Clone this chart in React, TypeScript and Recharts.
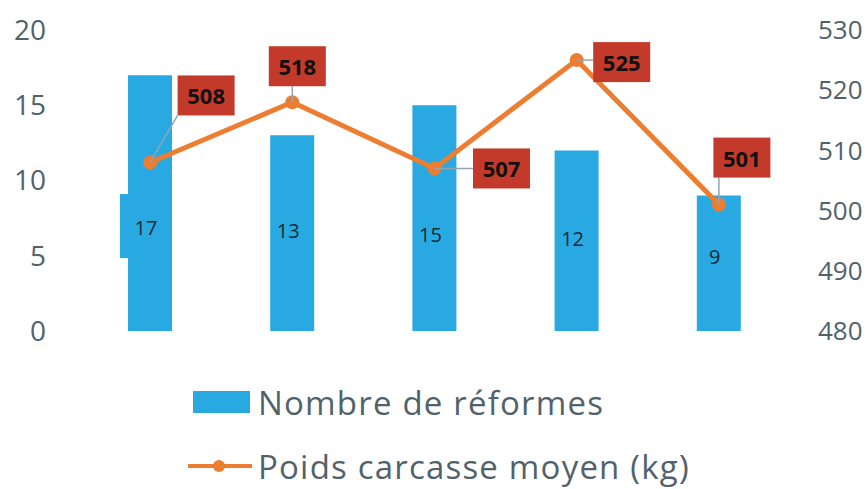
import React from 'react';
import { ComposedChart, Bar, Line, XAxis, YAxis, Legend, LabelList } from 'recharts';

const categories = ['1', '2', '3', '4', '5'];
const nombreReformes = [17, 13, 15, 12, 9];
const poidsCarcasse = [508, 518, 507, 525, 501];
const leftTicks = [0, 5, 10, 15, 20];
const rightTicks = [480, 490, 500, 510, 520, 530];

const data = categories.map((c, i) => ({
  cat: c,
  nombre: nombreReformes[i],
  poids: poidsCarcasse[i],
}));

// layout of the hand-placed labels (relative offsets)
const LINE_LABEL_OFFSETS: [number, number][] = [[56, -67], [5, -36], [67, 0], [45, 2], [23, -47]];
const BAR_LABEL_DY = [24, -3, 16, -2, -7];

const BLUE = '#29a9e1';
const ORANGE = '#ed7d31';
const RED = '#c43a2a';
const TEXT = '#52626b';
const FONT = '"Open Sans", sans-serif';

const LineLabel = (props: any) => {
  const { x, y, value, index } = props;
  const [dx, dy] = LINE_LABEL_OFFSETS[index] || [0, -30];
  const w = 57;
  const h = 40;
  const cx = x + dx;
  const cy = y + dy;
  const left = cx - w / 2;
  const top = cy - h / 2;
  const nx = Math.max(left, Math.min(x, left + w));
  const ny = Math.max(top, Math.min(y, top + h));
  return (
    <g>
      <line x1={x} y1={y} x2={nx} y2={ny} stroke="#8fa6b3" strokeWidth={1.5} />
      <rect x={left} y={top} width={w} height={h} fill={RED} />
      <text x={cx} y={cy} textAnchor="middle" dominantBaseline="central" fontFamily={FONT} fontWeight={700} fontSize={22} fill="#111">
        {value}
      </text>
    </g>
  );
};

const BarLabel = (props: any) => {
  const { x, y, width, height, value, index } = props;
  const cx = x + width / 2;
  const cy = y + height / 2 + (BAR_LABEL_DY[index] || 0);
  return (
    <g>
      {index === 0 && <rect x={x - 8} y={cy - 33} width={width + 8} height={64} fill={BLUE} />}
      <text x={cx - 4} y={cy} textAnchor="middle" dominantBaseline="central" fontFamily={FONT} fontSize={20} fill="#1a2a33">
        {value}
      </text>
    </g>
  );
};

const LegendContent = () => (
  <div style={{ fontFamily: FONT, fontSize: 33, letterSpacing: 1.2, color: TEXT }}>
    <div style={{ display: 'flex', alignItems: 'center', height: 64, whiteSpace: 'nowrap' }}>
      <div style={{ width: 57, height: 22, background: BLUE, marginLeft: 7, marginRight: 8 }} />
      <span>Nombre de réformes</span>
    </div>
    <div style={{ display: 'flex', alignItems: 'center', height: 64, whiteSpace: 'nowrap' }}>
      <svg width={70} height={20} style={{ marginRight: 2 }}>
        <line x1={2} y1={10} x2={66} y2={10} stroke={ORANGE} strokeWidth={4} />
        <circle cx={33} cy={10} r={6} fill={ORANGE} />
      </svg>
      <span>Poids carcasse moyen (kg)</span>
    </div>
  </div>
);

export default function App() {
  return (
    <div style={{ position: 'absolute', left: 0, top: 0, width: 867, height: 489, background: '#fff' }}>
      <ComposedChart width={867} height={489} data={data} margin={{ top: 30, right: 0, left: 0, bottom: 158 }}>
        <XAxis dataKey="cat" hide />
        <YAxis
          yAxisId="left"
          orientation="left"
          width={79}
          domain={[0, 20]}
          ticks={leftTicks}
          axisLine={false}
          tickLine={false}
          tickSize={0}
          tickMargin={33}
          tick={{ fill: TEXT, fontSize: 28, fontFamily: FONT }}
        />
        <YAxis
          yAxisId="right"
          orientation="right"
          width={77}
          domain={[480, 530]}
          ticks={rightTicks}
          axisLine={false}
          tickLine={false}
          tickSize={0}
          tickMargin={28}
          tick={{ fill: TEXT, fontSize: 26, fontFamily: FONT }}
        />
        <Bar yAxisId="left" dataKey="nombre" name="Nombre de réformes" fill={BLUE} barSize={44} isAnimationActive={false}>
          <LabelList dataKey="nombre" content={BarLabel} />
        </Bar>
        <Line
          yAxisId="right"
          dataKey="poids"
          name="Poids carcasse moyen (kg)"
          stroke={ORANGE}
          strokeWidth={5}
          dot={{ r: 7, fill: ORANGE, stroke: ORANGE, strokeWidth: 0 }}
          isAnimationActive={false}
        >
          <LabelList dataKey="poids" content={LineLabel} />
        </Line>
        <Legend
          layout="vertical"
          align="center"
          verticalAlign="middle"
          wrapperStyle={{ top: 370, left: 186, width: 'auto', height: 'auto' }}
          content={LegendContent}
        />
      </ComposedChart>
    </div>
  );
}
